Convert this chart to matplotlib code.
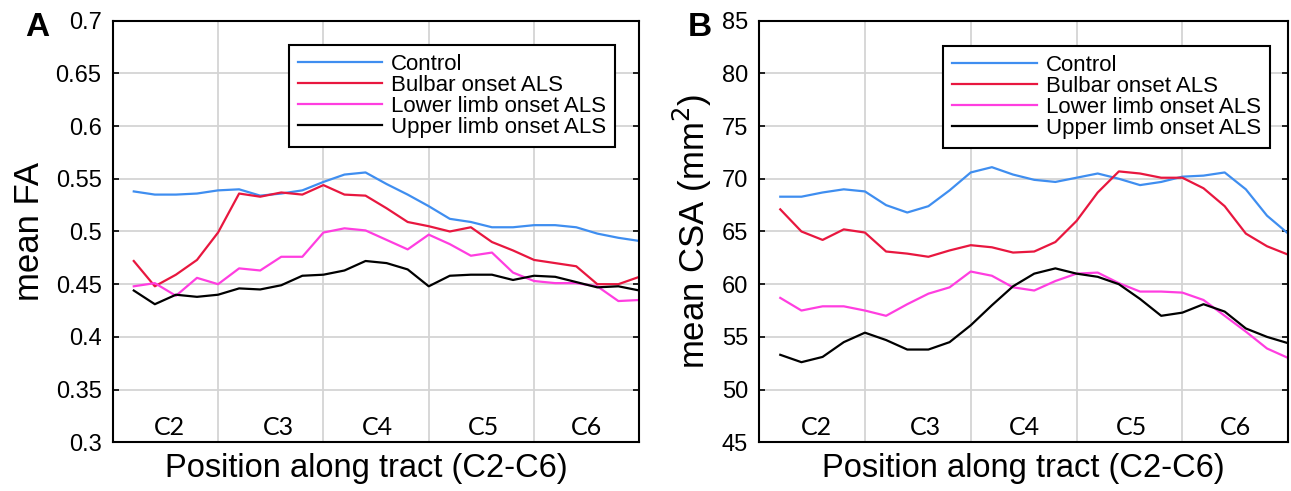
import matplotlib
matplotlib.use("Agg")
import matplotlib.pyplot as plt
import numpy as np

plt.rcParams['font.family'] = ['Liberation Sans', 'DejaVu Sans']

# position index along the tract (25 samples)
pos = np.arange(1, 26)

# mean FA (panel A)
fa_control = [0.538, 0.535, 0.535, 0.536, 0.539, 0.540, 0.534, 0.536, 0.539, 0.547,
              0.554, 0.556, 0.545, 0.535, 0.524, 0.512, 0.509, 0.504, 0.504, 0.506,
              0.506, 0.504, 0.498, 0.494, 0.491]
fa_bulbar = [0.472, 0.448, 0.459, 0.473, 0.499, 0.536, 0.533, 0.537, 0.535, 0.544,
             0.535, 0.534, 0.522, 0.509, 0.505, 0.500, 0.504, 0.490, 0.482, 0.473,
             0.470, 0.467, 0.450, 0.450, 0.457]
fa_lower = [0.448, 0.451, 0.439, 0.456, 0.450, 0.465, 0.463, 0.476, 0.476, 0.499,
            0.503, 0.501, 0.492, 0.483, 0.497, 0.488, 0.477, 0.480, 0.461, 0.453,
            0.451, 0.451, 0.448, 0.434, 0.435]
fa_upper = [0.444, 0.431, 0.440, 0.438, 0.440, 0.446, 0.445, 0.449, 0.458, 0.459,
            0.463, 0.472, 0.470, 0.464, 0.448, 0.458, 0.459, 0.459, 0.454, 0.458,
            0.457, 0.452, 0.447, 0.448, 0.444]

# mean CSA in mm^2 (panel B)
csa_control = [68.3, 68.3, 68.7, 69.0, 68.8, 67.5, 66.8, 67.4, 68.9, 70.6,
               71.1, 70.4, 69.9, 69.7, 70.1, 70.5, 70.0, 69.4, 69.7, 70.2,
               70.3, 70.6, 69.0, 66.5, 64.8]
csa_bulbar = [67.1, 65.0, 64.2, 65.2, 64.9, 63.1, 62.9, 62.6, 63.2, 63.7,
              63.5, 63.0, 63.1, 64.0, 66.0, 68.7, 70.7, 70.5, 70.1, 70.1,
              69.1, 67.4, 64.8, 63.6, 62.8]
csa_lower = [58.7, 57.5, 57.9, 57.9, 57.5, 57.0, 58.1, 59.1, 59.7, 61.2,
             60.8, 59.7, 59.4, 60.3, 61.0, 61.1, 60.1, 59.3, 59.3, 59.2,
             58.5, 57.0, 55.5, 53.9, 53.0]
csa_upper = [53.3, 52.6, 53.1, 54.5, 55.4, 54.7, 53.8, 53.8, 54.5, 56.1,
             58.0, 59.8, 61.0, 61.5, 61.0, 60.7, 60.0, 58.6, 57.0, 57.3,
             58.1, 57.4, 55.8, 55.0, 54.4]

group_names = ['Control', 'Bulbar onset ALS', 'Lower limb onset ALS', 'Upper limb onset ALS']
group_colors = ['#3f8ef0', '#e8173f', '#ff3ee0', '#000000']

level_names = ['C2', 'C3', 'C4', 'C5', 'C6']
level_pos = [2.7, 7.85, 12.55, 17.6, 22.5]

fig = plt.figure(figsize=(12.91, 4.91), dpi=100)
ax1 = fig.add_axes([0.0873, 0.0992, 0.408, 0.8587])
ax2 = fig.add_axes([0.588, 0.0992, 0.4098, 0.8587])

panels = [
    (ax1, [fa_control, fa_bulbar, fa_lower, fa_upper], (0.3, 0.7), np.arange(0.3, 0.701, 0.05),
     'mean FA', 'A', -0.127, -0.143, (0.954, 0.942), 0.482),
    (ax2, [csa_control, csa_bulbar, csa_lower, csa_upper], (45, 85), np.arange(45, 86, 5),
     'mean CSA (mm$^2$)', 'B', -0.086, -0.113, (0.965, 0.940), 0.5),
]

for ax, series, ylim, yticks, ylab, letter, ylab_x, letter_x, leg_anchor, xlab_x in panels:
    for vals, name, col in zip(series, group_names, group_colors):
        ax.plot(pos, vals, color=col, lw=1.6, label=name)
    ax.set_xlim(0, 25)
    ax.set_ylim(*ylim)
    ax.set_xticks([5, 10, 15, 20])
    ax.set_xticklabels([])
    ax.set_yticks(yticks)
    if ax is ax1:
        ax.set_yticklabels(['0.3', '0.35', '0.4', '0.45', '0.5', '0.55', '0.6', '0.65', '0.7'])
    ax.tick_params(axis='x', length=0)
    ax.tick_params(axis='y', direction='in', length=4, width=1.2, right=True,
                   labelsize=17, pad=8)
    ax.grid(True, color='#d4d4d4', lw=1.3)
    ax.set_axisbelow(True)
    for sp in ax.spines.values():
        sp.set_linewidth(1.5)
    ax.set_ylabel(ylab, fontsize=25)
    ax.yaxis.set_label_coords(ylab_x, 0.5)
    ax.set_xlabel('Position along tract (C2-C6)', fontsize=23.5, va='center')
    ax.xaxis.set_label_coords(xlab_x, -0.062)
    for name, x in zip(level_names, level_pos):
        ax.text(x, 0.036, name, transform=ax.get_xaxis_transform(),
                ha='center', va='center', fontsize=18, family='Lato')
    leg = ax.legend(loc='upper right', bbox_to_anchor=leg_anchor, borderaxespad=0,
                    fontsize=16, fancybox=False, framealpha=1, edgecolor='black',
                    handlelength=3.8, labelspacing=0.0, borderpad=0.4,
                    handletextpad=0.4)
    leg.get_frame().set_linewidth(1.5)
    ax.text(letter_x, 0.983, letter, transform=ax.transAxes, fontsize=24,
            fontweight='bold', ha='center', va='center')

fig.savefig('out.png', dpi=100)
